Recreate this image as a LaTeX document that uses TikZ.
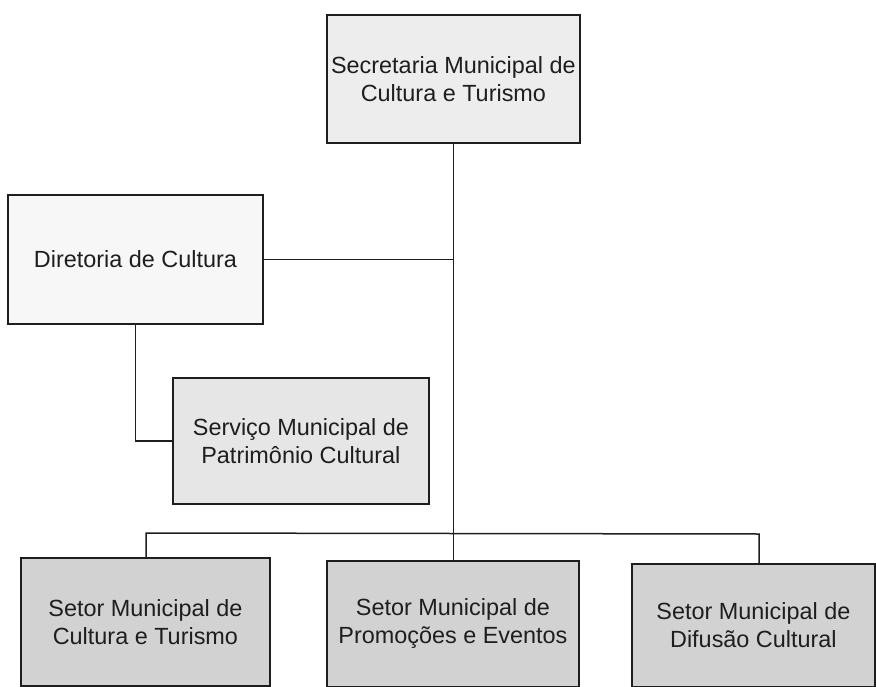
\documentclass[tikz,border=0pt]{standalone}
\usepackage{fontspec}
\setmainfont{Liberation Sans}
\definecolor{topfill}{HTML}{EDEDED}
\definecolor{dirfill}{HTML}{F7F7F7}
\definecolor{servfill}{HTML}{E6E6E6}
\definecolor{setfill}{HTML}{D2D2D2}
\definecolor{ink}{HTML}{1E1E1E}
\begin{document}
\begin{tikzpicture}[x=1bp,y=-1bp,
  box/.style={draw=ink,line width=1.8bp,anchor=north west,align=center,inner sep=0pt,
    font=\fontsize{23.5}{28}\selectfont,text=ink},
  conn/.style={draw=ink,line width=1.5bp}]
\useasboundingbox (0,0) rectangle (876,687);
\node[box,fill=topfill,minimum width=253bp,minimum height=128bp] (top) at (326,14) {Secretaria Municipal de\\Cultura e Turismo};
\node[box,fill=dirfill,minimum width=255bp,minimum height=129bp] (dir) at (7,194) {Diretoria de Cultura};
\node[box,fill=servfill,minimum width=256bp,minimum height=126bp] (serv) at (172,377) {Serviço Municipal de\\Patrimônio Cultural};
\node[box,fill=setfill,minimum width=249bp,minimum height=128bp] (b1) at (20,557) {Setor Municipal de\\Cultura e Turismo};
\node[box,fill=setfill,minimum width=252bp,minimum height=126bp] (b2) at (326,560) {Setor Municipal de\\Promoções e Eventos};
\node[box,fill=setfill,minimum width=243bp,minimum height=123bp] (b3) at (631,563) {Setor Municipal de\\Difusão Cultural};
\coordinate (busL) at (146,533);
\coordinate (busR) at (759,534);
\draw[conn] (top.south) -- (top.south |- b2.north);
\draw[conn] (dir.east) -- (dir.east -| top.south);
\draw[conn] (dir.south) |- (serv.west);
\draw[conn] (busL |- b1.north) -- (busL) -- (busR) -- (busR |- b3.north);
\end{tikzpicture}
\end{document}
